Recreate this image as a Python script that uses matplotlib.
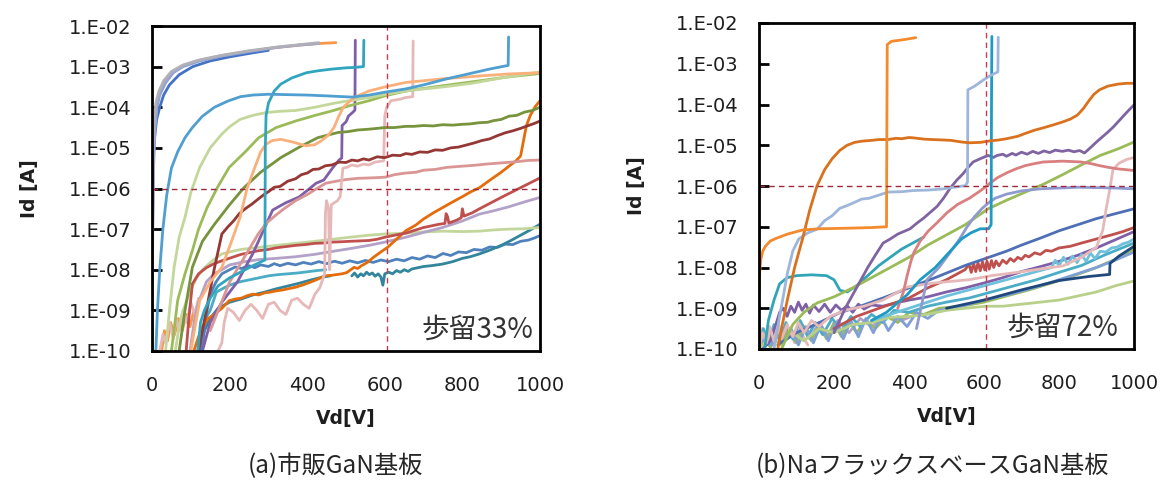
import matplotlib
matplotlib.use("Agg")
import matplotlib.pyplot as plt
import numpy as np

plt.rcParams['font.family'] = ['DejaVu Sans', 'Noto Sans CJK JP']

# ---------------- data: (Vd [V], log10 Id [A]) ----------------
x_ticks = [0, 200, 400, 600, 800, 1000]
y_exps = [-10, -9, -8, -7, -6, -5, -4, -3, -2]
y_ticklabels = ["1.E-10", "1.E-09", "1.E-08", "1.E-07", "1.E-06", "1.E-05", "1.E-04", "1.E-03", "1.E-02"]
ref_vd = 605
ref_id = 1e-6
panel_titles = ["(a)市販GaN基板", "(b)NaフラックスベースGaN基板"]
yield_texts = ["歩留33%", "歩留72%"]

# ---- (a) commercial GaN substrate ----
a_orange_top = [(0,-10),(1,-7.5),(3,-5.2),(6,-4.4),(10,-4.0),(18,-3.65),(30,-3.38),(50,-3.14),(80,-2.97),(120,-2.85),(180,-2.73),(250,-2.62),(320,-2.53),(380,-2.47),(430,-2.43),(474,-2.41)]
a_gray = [(0,-10),(1,-7),(3,-5),(6,-4.3),(10,-3.9),(18,-3.6),(30,-3.35),(50,-3.12),(80,-2.96),(120,-2.84),(180,-2.72),(250,-2.61),(320,-2.52),(380,-2.46),(430,-2.41)]
a_lavender = [(0,-10),(2,-7),(4,-5.5),(8,-4.5),(13,-4.0),(20,-3.7),(35,-3.4),(55,-3.15),(80,-3.0),(120,-2.87),(180,-2.74),(250,-2.63),(320,-2.53),(380,-2.47),(430,-2.43)]
a_blue_top = [(0,-10),(1,-8),(2,-6.5),(3,-5.4),(6,-4.8),(12,-4.3),(20,-4.0),(30,-3.7),(45,-3.45),(70,-3.2),(105,-3.0),(150,-2.86),(200,-2.76),(260,-2.66),(300,-2.6)]
a_skyblue = [(10,-10),(14,-9),(20,-8),(28,-7),(38,-6.16),(50,-5.5),(66,-5.1),(85,-4.75),(104,-4.5),(130,-4.22),(161,-4.0),(195,-3.85),(228,-3.74),(260,-3.7),(300,-3.68),(350,-3.69),(400,-3.7),(450,-3.72),(516,-3.75),(560,-3.7),(600,-3.63),(653,-3.55),(700,-3.45),(760,-3.3),(824,-3.16),(870,-3.06),(918,-2.97),(919,-2.27)]
a_teal_jump = [(118,-10),(125,-9.3),(135,-9.0),(150,-8.7),(170,-8.4),(200,-8.2),(230,-8.05),(260,-7.9),(291,-7.76),(292,-5.0),(294,-4.2),(300,-3.9),(315,-3.6),(332,-3.43),(360,-3.28),(398,-3.15),(430,-3.1),(464,-3.06),(500,-3.03),(521,-3.02),(545,-3.0),(546,-2.35)]
a_palegreen = [(35,-10),(45,-9),(57,-7.94),(70,-7.2),(85,-6.71),(100,-6.1),(123,-5.48),(150,-5.0),(180,-4.66),(200,-4.48),(227,-4.3),(260,-4.2),(294,-4.13),(330,-4.1),(370,-4.08),(420,-4.0),(470,-3.9),(520,-3.82),(567,-3.75),(620,-3.65),(680,-3.57),(750,-3.5),(824,-3.41),(900,-3.28),(1000,-3.13)]
a_green = [(50,-10),(58,-9.4),(66,-8.76),(85,-8.1),(104,-7.53),(120,-7.0),(142,-6.47),(170,-5.95),(199,-5.48),(240,-5.1),(275,-4.75),(320,-4.5),(370,-4.34),(420,-4.2),(464,-4.09),(510,-3.96),(559,-3.84),(600,-3.72),(654,-3.6),(750,-3.47),(844,-3.35),(920,-3.25),(1000,-3.17)]
a_olive = [(70,-10),(85,-9),(104,-7.94),(130,-7.3),(161,-6.88),(200,-6.4),(237,-5.98),(280,-5.6),(332,-5.24),(380,-4.98),(427,-4.75),(455,-4.68),(480,-4.62),(505,-4.6),(530,-4.56),(559,-4.54),(580,-4.52),(600,-4.5),(625,-4.5),(654,-4.47),(675,-4.47),(700,-4.45),(725,-4.46),(749,-4.43),(775,-4.44),(800,-4.42),(820,-4.41),(844,-4.38),(865,-4.37),(880,-4.33),(900,-4.3),(920,-4.22),(940,-4.2),(960,-4.12),(980,-4.08),(1000,-4.0)]
a_peach = [(100,-10),(123,-8.76),(150,-8.3),(180,-7.94),(205,-7.3),(227,-6.71),(245,-6.0),(265,-5.48),(280,-5.1),(294,-4.91),(310,-4.82),(332,-4.79),(360,-4.85),(398,-4.95),(420,-4.92),(436,-4.83),(455,-4.68),(469,-4.5),(480,-4.25),(493,-4.0),(510,-3.85),(521,-3.76),(559,-3.6),(600,-3.5),(654,-3.39),(750,-3.3),(844,-3.23),(920,-3.18),(1000,-3.15)]
a_maroon = [(120,-10),(140,-9.0),(160,-8.0),(180,-7.12),(195,-6.95),(210,-6.8),(225,-6.62),(240,-6.5),(258,-6.38),(275,-6.25),(290,-6.14),(300,-6.08),(315,-5.97),(330,-5.95),(350,-5.82),(370,-5.76),(385,-5.66),(400,-5.62),(415,-5.53),(430,-5.52),(447,-5.44),(464,-5.42),(482,-5.35),(500,-5.36),(515,-5.3),(530,-5.32),(545,-5.27),(559,-5.3),(580,-5.22),(600,-5.24),(620,-5.18),(640,-5.19),(654,-5.14),(670,-5.16),(690,-5.1),(710,-5.11),(730,-5.05),(749,-5.06),(770,-5.0),(790,-4.98),(810,-4.93),(830,-4.88),(850,-4.82),(870,-4.78),(890,-4.7),(910,-4.63),(930,-4.58),(950,-4.52),(970,-4.45),(985,-4.4),(1000,-4.34)]
a_lightpink = [(170,-10),(180,-9.8),(186,-9.3),(195,-8.95),(210,-9.05),(225,-9.25),(240,-9.0),(255,-8.85),(270,-9.0),(285,-9.2),(300,-8.85),(315,-8.8),(330,-9.0),(345,-9.1),(360,-8.75),(375,-8.7),(390,-8.85),(405,-8.95),(420,-8.6),(432,-8.45),(445,-8.1),(447,-6.6),(450,-6.3),(455,-6.5),(458,-8.0),(462,-6.4),(470,-6.35),(478,-6.3),(485,-6.2),(488,-5.9),(492,-5.5),(502,-5.48),(515,-5.42),(530,-5.45),(545,-5.4),(559,-5.42),(575,-5.35),(597,-5.32),(600,-4.2),(605,-4.0),(616,-3.84),(640,-3.8),(654,-3.76),(672,-3.74),(673,-2.37)]
a_dustypink = [(150,-9.5),(175,-8.9),(200,-8.3),(225,-7.9),(250,-7.5),(275,-7.1),(295,-6.85),(320,-6.65),(340,-6.5),(370,-6.3),(400,-6.15),(425,-6.0),(448,-5.87),(475,-5.82),(500,-5.78),(530,-5.75),(560,-5.74),(585,-5.73),(602,-5.72),(625,-5.66),(653,-5.62),(680,-5.6),(700,-5.55),(730,-5.53),(760,-5.48),(800,-5.45),(830,-5.43),(860,-5.4),(900,-5.37),(940,-5.34),(970,-5.31),(1000,-5.3)]
a_red = [(88,-10),(95,-9.2),(104,-8.35),(120,-8.1),(140,-7.95),(160,-7.85),(180,-7.78),(205,-7.7),(230,-7.62),(255,-7.57),(275,-7.53),(300,-7.5),(320,-7.46),(345,-7.43),(370,-7.4),(395,-7.38),(420,-7.35),(445,-7.34),(464,-7.32),(490,-7.31),(510,-7.3),(535,-7.29),(559,-7.28),(580,-7.25),(600,-7.2),(625,-7.15),(654,-7.1),(680,-7.02),(700,-6.96),(720,-6.92),(740,-6.88),(755,-6.86),(758,-6.62),(762,-6.7),(765,-6.85),(785,-6.78),(797,-6.72),(800,-6.5),(804,-6.68),(825,-6.6),(844,-6.5),(870,-6.37),(900,-6.22),(925,-6.1),(950,-5.98),(975,-5.86),(1000,-5.74)]
a_darkorange = [(108,-10),(118,-9.7),(130,-9.4),(145,-9.2),(161,-9.09),(180,-8.95),(199,-8.76),(215,-8.72),(230,-8.7),(245,-8.64),(260,-8.6),(275,-8.62),(290,-8.57),(305,-8.55),(320,-8.52),(335,-8.5),(350,-8.47),(370,-8.43),(390,-8.37),(410,-8.3),(430,-8.22),(445,-8.15),(460,-8.14),(475,-8.12),(490,-8.1),(502,-8.07),(512,-8.0),(521,-7.94),(530,-7.97),(540,-7.9),(555,-7.82),(570,-7.7),(590,-7.56),(607,-7.45),(630,-7.25),(654,-7.04),(680,-6.9),(700,-6.75),(725,-6.6),(749,-6.47),(775,-6.33),(800,-6.2),(820,-6.09),(844,-5.98),(870,-5.8),(900,-5.6),(920,-5.45),(938,-5.32),(950,-5.2),(958,-4.8),(965,-4.45),(975,-4.2),(988,-3.98),(1000,-3.84)]
a_lilac = [(98,-10),(110,-9.2),(120,-8.8),(140,-8.3),(160,-8.1),(180,-8.0),(200,-7.88),(240,-7.8),(275,-7.75),(320,-7.72),(370,-7.68),(420,-7.62),(464,-7.55),(510,-7.48),(559,-7.4),(600,-7.32),(654,-7.2),(700,-7.08),(749,-6.96),(800,-6.8),(844,-6.63),(880,-6.55),(920,-6.45),(960,-6.33),(1000,-6.22)]
a_flatgreen = [(60,-10),(70,-9.4),(80,-9),(100,-8.5),(115,-8.2),(130,-8.0),(155,-7.78),(180,-7.61),(205,-7.55),(230,-7.5),(275,-7.45),(320,-7.4),(370,-7.35),(420,-7.3),(464,-7.25),(510,-7.2),(559,-7.15),(600,-7.12),(654,-7.1),(700,-7.07),(749,-7.05),(800,-7.06),(844,-7.05),(880,-7.02),(920,-7.0),(960,-6.99),(1000,-6.96)]
a_bluenoisy = [(128,-10),(140,-9.1),(150,-8.6),(165,-8.3),(180,-8.1),(200,-8.0),(215,-7.93),(230,-7.97),(250,-7.9),(265,-7.95),(280,-7.88),(300,-7.92),(315,-7.85),(330,-7.9),(350,-7.84),(370,-7.88),(390,-7.82),(410,-7.86),(430,-7.8),(450,-7.85),(470,-7.79),(490,-7.84),(510,-7.78),(530,-7.83),(550,-7.77),(570,-7.82),(590,-7.76),(610,-7.8),(630,-7.74),(650,-7.78),(670,-7.7),(690,-7.74),(710,-7.66),(730,-7.7),(750,-7.6),(770,-7.65),(790,-7.56),(810,-7.58),(830,-7.5),(850,-7.52),(870,-7.44),(890,-7.45),(910,-7.37),(930,-7.38),(950,-7.3),(970,-7.27),(985,-7.22),(1000,-7.16)]
a_darkteal = [(515,-8.15),(522,-8.08),(530,-8.18),(538,-8.1),(545,-8.15),(553,-8.06),(560,-8.12),(568,-8.08),(575,-8.16),(583,-8.1),(590,-8.18),(595,-8.38),(600,-8.1),(610,-8.06),(620,-8.1),(630,-8.02),(640,-8.06),(650,-8.0),(660,-8.04),(670,-7.98),(680,-7.96),(700,-7.92),(720,-7.9),(749,-7.86),(775,-7.8),(800,-7.72),(820,-7.68),(844,-7.61),(870,-7.52),(900,-7.4),(925,-7.28),(950,-7.15),(975,-7.02),(1000,-6.88)]
a_cyan_low = [(118,-10),(128,-9.6),(138,-9.2),(150,-9.0),(166,-8.55),(185,-8.45),(200,-8.38),(225,-8.3),(250,-8.25),(275,-8.2),(300,-8.15),(325,-8.12),(350,-8.1),(375,-8.08),(400,-8.05),(425,-8.02),(448,-8.0)]
a_teal_low = [(125,-10),(135,-9.5),(150,-9.2),(170,-8.95),(200,-8.8),(230,-8.72),(260,-8.62),(290,-8.55),(320,-8.47),(350,-8.4),(380,-8.33),(410,-8.25),(440,-8.18),(460,-8.15)]
a_pink_start = [(20,-10),(28,-9.6),(35,-9.8),(45,-9.3),(55,-9.7),(62,-9.2),(70,-9.5),(80,-9.0),(90,-9.3),(100,-8.8),(110,-9.1),(120,-8.7)]
a_orange_start = [(25,-10),(32,-9.5),(40,-9.75),(48,-9.3),(58,-9.6),(68,-9.2),(78,-9.5),(88,-9.1),(98,-9.4),(108,-9.0)]
a_purple = [(130,-10),(150,-9.3),(180,-8.8),(220,-8.3),(260,-7.6),(311,-6.53),(345,-6.35),(379,-6.21),(400,-6.05),(423,-5.87),(443,-5.79),(465,-5.5),(482,-5.3),(489,-5.25),(490,-4.45),(500,-4.36),(503,-4.3),(506,-4.22),(518,-4.12),(523,-4.07),(524,-2.35)]

# ---- (b) Na-flux based GaN substrate ----
b_orange = [(0,-8.62),(2,-8.1),(5,-7.8),(10,-7.6),(17,-7.48),(30,-7.35),(47,-7.28),(76,-7.18),(116,-7.08),(160,-7.05),(215,-7.04),(260,-7.03),(300,-7.02),(340,-7.0),(341,-4.5),(342,-2.53),(353,-2.45),(385,-2.41),(418,-2.36)]
b_brown = [(50,-10),(60,-9.5),(76,-8.78),(95,-8.0),(116,-7.3),(135,-6.6),(155,-5.99),(175,-5.6),(195,-5.33),(215,-5.13),(235,-5.0),(255,-4.93),(274,-4.9),(300,-4.88),(320,-4.86),(344,-4.86),(365,-4.83),(380,-4.84),(400,-4.81),(413,-4.82),(440,-4.85),(462,-4.86),(490,-4.87),(512,-4.88),(540,-4.92),(561,-4.94),(590,-4.93),(611,-4.9),(640,-4.87),(660,-4.84),(690,-4.78),(710,-4.71),(735,-4.63),(759,-4.57),(785,-4.5),(809,-4.43),(830,-4.36),(849,-4.26),(865,-4.1),(878,-3.93),(893,-3.75),(908,-3.64),(930,-3.55),(957,-3.5),(980,-3.48),(1000,-3.48)]
b_steelblue = [(40,-10),(55,-9.2),(76,-8.13),(90,-7.6),(106,-7.3),(130,-7.15),(155,-7.06),(175,-6.85),(195,-6.73),(215,-6.55),(235,-6.48),(255,-6.4),(274,-6.32),(294,-6.3),(314,-6.24),(344,-6.15),(380,-6.14),(413,-6.11),(450,-6.1),(492,-6.07),(520,-6.03),(551,-5.99),(556,-5.9),(557,-3.64),(575,-3.55),(598,-3.4),(615,-3.3),(637,-3.2),(638,-2.35)]
b_teal_jump = [(300,-9.3),(340,-9.1),(395,-8.67),(430,-8.3),(470,-8.0),(505,-7.65),(540,-7.3),(565,-7.15),(590,-7.05),(612,-7.05),(619,-6.95),(620,-4.0),(621,-2.33)]
b_teal_bump = [(15,-10),(25,-9.3),(40,-8.8),(55,-8.4),(75,-8.25),(100,-8.2),(140,-8.18),(180,-8.2),(200,-8.3),(216,-8.56),(235,-8.6),(260,-8.45),(290,-8.2),(320,-7.95),(350,-7.75),(380,-7.55),(410,-7.4),(440,-7.25)]
b_purple = [(200,-9.6),(230,-9.0),(260,-8.5),(290,-8.0),(310,-7.7),(331,-7.4),(350,-7.3),(370,-7.18),(403,-7.05),(420,-6.92),(440,-6.78),(460,-6.62),(475,-6.5),(492,-6.3),(510,-6.05),(528,-5.85),(544,-5.7),(557,-5.55),(571,-5.41),(590,-5.33),(611,-5.25),(625,-5.3),(635,-5.25),(650,-5.22),(660,-5.27),(675,-5.2),(685,-5.24),(700,-5.17),(715,-5.22),(730,-5.15),(745,-5.2),(760,-5.14),(775,-5.18),(790,-5.12),(809,-5.15),(825,-5.12),(840,-5.16),(855,-5.13),(868,-5.19),(885,-5.05),(900,-4.92),(915,-4.8),(930,-4.68),(945,-4.55),(957,-4.43),(970,-4.3),(985,-4.15),(1000,-4.01)]
b_rose = [(370,-9.0),(385,-8.6),(395,-8.2),(405,-7.85),(413,-7.63),(430,-7.35),(452,-7.1),(475,-6.9),(502,-6.65),(530,-6.45),(561,-6.3),(590,-6.12),(611,-5.97),(635,-5.8),(660,-5.68),(685,-5.58),(710,-5.5),(735,-5.45),(759,-5.41),(785,-5.4),(809,-5.39),(835,-5.4),(858,-5.41),(885,-5.45),(908,-5.5),(930,-5.54),(957,-5.58),(980,-5.6),(1000,-5.62)]
b_green = [(60,-10),(90,-9.4),(120,-9.1),(155,-8.87),(200,-8.72),(250,-8.5),(300,-8.25),(350,-8.0),(400,-7.75),(450,-7.45),(500,-7.2),(550,-6.95),(611,-6.56),(660,-6.35),(710,-6.15),(760,-5.95),(810,-5.72),(860,-5.48),(910,-5.25),(960,-5.08),(1000,-4.92)]
b_lavblue = [(420,-9.5),(448,-8.3),(480,-8.0),(509,-7.64),(535,-7.3),(555,-7.0),(575,-6.75),(595,-6.55),(611,-6.42),(630,-6.3),(660,-6.2),(700,-6.12),(750,-6.07),(800,-6.05),(850,-6.03),(900,-6.04),(950,-6.05),(1000,-6.07)]
b_lightpink = [(0,-10),(10,-9.6),(20,-9.85),(30,-9.5),(40,-9.8),(50,-9.45),(60,-9.75),(75,-9.4),(90,-9.7),(105,-9.35),(120,-9.6),(140,-9.3),(160,-9.45),(190,-9.2),(230,-9.05),(280,-8.95),(330,-8.8),(395,-8.48),(450,-8.4),(500,-8.35),(560,-8.3),(620,-8.2),(680,-8.13),(740,-8.05),(811,-7.96),(860,-7.75),(900,-7.5),(917,-7.08),(925,-6.6),(935,-6.1),(944,-5.6),(960,-5.44),(980,-5.35),(1000,-5.3)]
b_navy = [(50,-9.9),(100,-9.6),(150,-9.4),(215,-9.11),(270,-8.95),(330,-8.75),(400,-8.5),(475,-8.23),(550,-7.95),(616,-7.74),(660,-7.6),(700,-7.45),(750,-7.28),(800,-7.1),(850,-6.95),(900,-6.8),(950,-6.68),(1000,-6.56)]
b_red = [(200,-9.5),(260,-9.2),(320,-9.0),(400,-8.75),(450,-8.5),(500,-8.3),(530,-8.15),(550,-8.05),(560,-7.92),(566,-8.12),(572,-7.9),(578,-8.1),(584,-7.88),(590,-8.08),(596,-7.86),(602,-8.06),(608,-7.85),(614,-8.04),(620,-7.83),(626,-8.0),(632,-7.84),(640,-7.96),(650,-7.82),(660,-7.9),(670,-7.78),(680,-7.85),(690,-7.75),(700,-7.8),(710,-7.7),(720,-7.74),(735,-7.64),(750,-7.68),(765,-7.58),(780,-7.6),(800,-7.52),(830,-7.48),(860,-7.4),(900,-7.3),(940,-7.2),(970,-7.12),(1000,-7.02)]
b_skyblue = [(300,-9.3),(400,-9.0),(500,-8.7),(600,-8.45),(700,-8.2),(780,-8.0),(790,-7.82),(800,-7.95),(812,-7.75),(824,-7.92),(836,-7.72),(848,-7.88),(860,-7.68),(872,-7.85),(884,-7.65),(896,-7.78),(910,-7.6),(925,-7.62),(940,-7.52),(955,-7.5),(970,-7.42),(985,-7.38),(1000,-7.3)]
b_darknavy = [(500,-9.0),(600,-8.8),(700,-8.55),(800,-8.32),(880,-8.22),(935,-8.17),(936,-7.9),(960,-7.72),(980,-7.6),(1000,-7.48)]
b_palegreen = [(0,-10),(30,-9.7),(60,-9.9),(90,-9.6),(120,-9.8),(160,-9.5),(200,-9.6),(250,-9.4),(300,-9.35),(350,-9.22),(400,-9.2),(450,-9.15),(500,-9.05),(550,-9.0),(605,-8.95),(650,-8.95),(700,-8.9),(750,-8.85),(800,-8.8),(850,-8.7),(900,-8.6),(950,-8.45),(1000,-8.33)]
b_purple_noisy = [(10,-10),(30,-9.8),(45,-9.4),(55,-9.1),(65,-9.0),(75,-9.2),(85,-8.95),(95,-9.1),(105,-8.85),(115,-9.05),(125,-8.9),(135,-9.12),(145,-8.92),(160,-9.08),(175,-8.9),(190,-9.1),(205,-8.92),(220,-9.05),(235,-8.94),(250,-9.1),(265,-8.9),(280,-9.02),(300,-8.92),(330,-8.95),(360,-8.88),(400,-8.8),(450,-8.72),(500,-8.6),(550,-8.5),(600,-8.38),(650,-8.25),(700,-8.1),(750,-7.98),(800,-7.85),(850,-7.7),(900,-7.52),(950,-7.32),(1000,-7.12)]
b_blue_jag = [(0,-10),(20,-9.6),(35,-9.9),(50,-9.5),(65,-9.85),(85,-9.5),(105,-9.9),(125,-9.45),(145,-9.85),(165,-9.4),(185,-9.8),(205,-9.35),(225,-9.75),(245,-9.3),(265,-9.7),(285,-9.25),(305,-9.6),(325,-9.2),(345,-9.55),(370,-9.2),(395,-9.45),(420,-9.1),(450,-9.25),(480,-9.05),(520,-9.0),(560,-8.9),(600,-8.8),(650,-8.7),(700,-8.58),(750,-8.45),(800,-8.3),(850,-8.15),(900,-8.0),(950,-7.82),(1000,-7.62)]
b_green_jag = [(0,-10),(15,-9.7),(30,-9.95),(45,-9.55),(60,-9.9),(80,-9.5),(100,-9.85),(120,-9.45),(140,-9.8),(160,-9.4),(180,-9.75),(200,-9.35),(220,-9.7),(240,-9.3),(260,-9.6),(285,-9.3),(310,-9.5),(340,-9.2),(370,-9.35),(400,-9.1),(440,-9.15),(480,-9.0),(540,-8.95),(600,-8.85),(660,-8.7),(720,-8.55),(780,-8.38),(840,-8.2),(900,-8.0),(950,-7.8),(1000,-7.55)]
b_teal_jag = [(0,-10),(12,-9.5),(25,-9.9),(40,-9.4),(55,-9.8),(72,-9.35),(90,-9.75),(110,-9.3),(130,-9.7),(150,-9.35),(170,-9.65),(195,-9.25),(220,-9.55),(245,-9.2),(270,-9.45),(300,-9.15),(330,-9.35),(360,-9.05),(400,-9.1),(450,-8.95),(500,-8.85),(560,-8.75),(620,-8.6),(680,-8.45),(740,-8.3),(800,-8.12),(860,-7.95),(920,-7.7),(960,-7.55),(1000,-7.4)]
b_pink_jag = [(0,-10),(8,-9.5),(18,-9.85),(28,-9.45),(40,-9.8),(52,-9.4),(65,-9.75),(80,-9.5),(95,-9.85),(110,-9.55),(130,-9.9)]
b_lilac_jag = [(30,-10),(45,-9.6),(60,-9.85),(75,-9.45),(95,-9.8),(115,-9.4),(135,-9.75),(160,-9.35),(185,-9.7),(210,-9.3),(240,-9.6),(270,-9.25),(300,-9.45),(340,-9.2),(380,-9.3),(420,-9.15)]

# ---------------- drawing ----------------
a_series = [
    (a_orange_start, '#F79646'), (a_pink_start, '#E6B9B8'),
    (a_teal_low, '#31859C'), (a_cyan_low, '#4BACC6'),
    (a_bluenoisy, '#4F81BD'), (a_darkteal, '#31859C'),
    (a_flatgreen, '#C3D69B'), (a_lilac, '#B3A2C7'),
    (a_darkorange, '#E46C0A'), (a_red, '#C0504D'),
    (a_purple, '#7F5FA8'),
    (a_dustypink, '#D99694'), (a_lightpink, '#E6B9B8'),
    (a_maroon, '#953735'), (a_olive, '#77933C'),
    (a_green, '#9BBB59'), (a_palegreen, '#C4D79B'),
    (a_peach, '#FAB07A'), (a_teal_jump, '#31A5C0'),
    (a_skyblue, '#4F9FD0'), (a_orange_top, '#F79646'),
    (a_blue_top, '#4472C4'), (a_lavender, '#95A3D3'), (a_gray, '#B0B0B8'),
]

b_series = [
    (b_pink_jag, '#E6B9B8'), (b_lilac_jag, '#B3A2C7'),
    (b_green_jag, '#9BBB59'), (b_teal_jag, '#4BACC6'), (b_blue_jag, '#7FA0D6'),
    (b_palegreen, '#B9D08A'), (b_purple_noisy, '#7F5FA8'),
    (b_darknavy, '#1F497D'), (b_skyblue, '#6FC0DC'), (b_red, '#C0504D'),
    (b_navy, '#4F6FB5'), (b_lightpink, '#E6B9B8'),
    (b_teal_bump, '#31A5B8'), (b_green, '#9BBB59'),
    (b_lavblue, '#8E9AD0'), (b_rose, '#DA7F80'),
    (b_purple, '#8064A2'), (b_teal_jump, '#1E9BC4'),
    (b_steelblue, '#9DB6DA'), (b_brown, '#D9711E'), (b_orange, '#F38A2E'),
]

fig = plt.figure(figsize=(11.63, 4.88), dpi=100)
ax_a = fig.add_axes([152/1163, 1-351/488, (540-152)/1163, (351-26)/488])
ax_b = fig.add_axes([759/1163, 1-349/488, (1134-759)/1163, (349-23)/488])

for ax, series, ytxt, ypos, title, tx in [
        (ax_a, a_series, yield_texts[0], 0.982, panel_titles[0], 335/1163),
        (ax_b, b_series, yield_texts[1], 0.957, panel_titles[1], 933/1163)]:
    for pts, col in series:
        v = [p[0] for p in pts]
        i = [10.0 ** p[1] for p in pts]
        ax.plot(v, i, color=col, lw=2.0, solid_joinstyle='round', solid_capstyle='round')
    ax.set_yscale('log')
    ax.set_xlim(0, 1000)
    ax.set_ylim(1e-10, 1e-2)
    ax.axhline(ref_id, color='#A0283C', lw=1.0, dashes=(4, 3))
    ax.axvline(ref_vd, color='#C83C50', lw=1.0, dashes=(4, 3))
    ax.set_xticks(x_ticks)
    ax.set_xticklabels([str(t) for t in x_ticks])
    ax.set_yticks([10.0 ** e for e in y_exps])
    ax.set_yticklabels(y_ticklabels)
    ax.minorticks_off()
    ax.tick_params(axis='y', direction='in', length=7, width=2, pad=15, labelsize=14, colors='black', labelcolor='#1e1e1e')
    ax.tick_params(axis='x', length=0, pad=18, labelsize=14, labelcolor='#1e1e1e')
    for s in ax.spines.values():
        s.set_linewidth(2.0)
        s.set_color('black')
    ax.set_xlabel("Vd[V]", fontsize=13.5, fontweight='bold', color='#1e1e1e', labelpad=10)
    ax.set_ylabel("Id [A]", fontsize=13.5, fontweight='bold', color='#1e1e1e', labelpad=21)
    ax.text(ypos, 0.066, ytxt, transform=ax.transAxes, ha='right', va='center',
            fontsize=20, family=['Noto Sans CJK JP'], color='#333333')
    fig.text(tx, 1-466/488, title, ha='center', va='center', fontsize=17.5,
             family=['Noto Sans CJK JP'], color='#262626')

fig.savefig("out.png", dpi=100)
